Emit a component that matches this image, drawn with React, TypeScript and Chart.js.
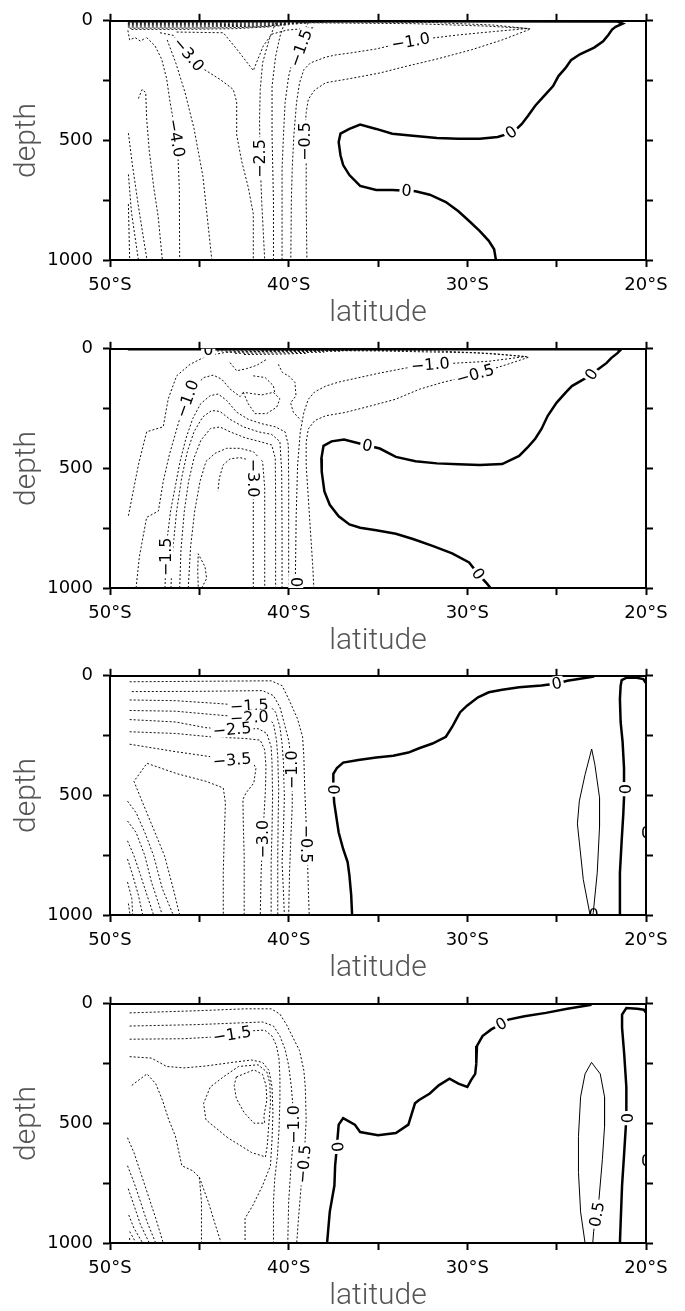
import React, { useEffect, useRef } from 'react';
import { Chart, registerables } from 'chart.js';

Chart.register(...registerables);
Chart.defaults.font.family = '"DejaVu Sans", sans-serif';

type Pt = [number, number]; // [latitude (negative = south), depth]
type Label = [string, number, number, number, boolean?]; // text, lat, depth, rotation (deg), background

// ---- axes ----
const LAT_TICKS = [-50, -45, -40, -35, -30, -25, -20];
const LAT_TICK_LABELS = ['50°S', '', '40°S', '', '30°S', '', '20°S'];
const DEPTH_TICKS = [0, 250, 500, 750, 1000];
const DEPTH_TICK_LABELS = ['0', '', '500', '', '1000'];

// ================= section 1 =================
const S1_ZERO: Pt[] = [[-49.0,2],[-35,2],[-21.6,3],[-21.3,12],[-21.7,25],[-21.9,37],[-22.1,58],[-22.4,86],[-22.9,112],[-23.7,140],[-24.2,165],[-24.5,197],[-24.9,231],[-25.2,273],[-25.7,314],[-26.2,355],[-26.6,397],[-26.95,431],[-27.3,456],[-27.7,472],[-28.3,486],[-29.3,493],[-30.5,493],[-31.7,490],[-32.9,482],[-34.2,472],[-35.1,452],[-36.0,434],[-36.6,452],[-37.1,472],[-37.2,507],[-37.1,562],[-36.95,603],[-36.6,645],[-36.0,690],[-35.1,707],[-34.2,707],[-33.4,710],[-32.9,713],[-32.1,727],[-31.2,758],[-30.5,796],[-29.9,837],[-29.3,879],[-28.8,920],[-28.5,955],[-28.4,1000]];
const S1_M05: Pt[] = [[-38.0,4],[-32,7],[-28.5,18],[-26.45,34],[-28.05,80],[-29.76,121],[-31.71,160],[-33.41,190],[-34.88,218],[-36.59,242],[-37.93,259],[-38.54,289],[-38.9,328],[-39.02,383],[-39.1,479],[-39.08,530],[-39.02,576],[-39.02,755],[-38.98,1000]];
const S1_M10: Pt[] = [[-39.5,8],[-33,12],[-29,22],[-26.6,32],[-28.54,45],[-30.49,59],[-32.07,73],[-33.17,85],[-34.15,101],[-35.12,118],[-36.59,135],[-37.32,142],[-37.93,152],[-38.78,176],[-39.15,204],[-39.39,259],[-39.56,342],[-39.71,479],[-39.8,617],[-39.85,755],[-39.88,1000]];
const S1_M15: Pt[] = [[-38.9,8],[-39.27,59],[-39.32,114],[-39.76,163],[-40.0,231],[-40.2,342],[-40.29,479],[-40.37,617],[-40.37,1000]];
const S1_M20: Pt[] = [[-40.24,11],[-40.49,66],[-40.73,149],[-40.93,273],[-40.93,479],[-40.85,755],[-40.85,1000]];
const S1_M25: Pt[] = [[-40.73,8],[-41.1,80],[-41.46,176],[-41.59,287],[-41.63,410],[-41.6,576],[-41.51,755],[-41.34,1000]];
const S1_M30: Pt[] = [[-47.2,50],[-46.45,61],[-45.6,140],[-44.78,201],[-43.84,245],[-43.1,287],[-42.91,339],[-42.91,477],[-42.63,587],[-42.26,697],[-41.98,807],[-41.98,1000]];
const S1_M30B: Pt[] = [[-46.27,47],[-43.66,50],[-42.91,118],[-41.98,208],[-41.42,105],[-40.95,56],[-40.11,39],[-38.6,29]];
const S1_M35: Pt[] = [[-46.8,80],[-46.3,180],[-45.8,300],[-45.3,450],[-44.8,650],[-44.3,1000]];
const S1_M40: Pt[] = [[-47.95,70],[-47.48,105],[-47.11,160],[-46.83,242],[-46.64,339],[-46.4,440],[-46.3,490],[-46.2,560],[-46.12,700],[-46.1,1000]];
const S1_M45: Pt[] = [[-48.41,325],[-48.2,287],[-48.0,300],[-47.95,408],[-47.8,545],[-47.55,697],[-47.3,821],[-47.07,1000]];
const S1_M50: Pt[] = [[-48.97,470],[-48.75,600],[-48.4,780],[-47.93,1000]];
const S1_M55: Pt[] = [[-48.97,642],[-48.8,800],[-48.41,1000]];
const S1_M60: Pt[] = [[-48.97,766],[-48.9,1000]];
const S1_NW: Pt[] = [[-49.0,40],[-48.9,80],[-48.6,70],[-48.3,85],[-48.0,72]];
const S1_SURF_A: Pt[] = [[-49,6],[-44,6],[-40,5],[-37,4]];
const S1_SURF_B: Pt[] = [[-49,11],[-44,11],[-40.5,9],[-38,7]];
const S1_SURF_C: Pt[] = [[-49,16],[-44,16],[-41,13],[-39,10]];
const S1_SURF_D: Pt[] = [[-49,21],[-44.5,21],[-41.5,18],[-39.5,13]];
const S1_SURF_E: Pt[] = [[-49,26],[-45,26],[-42,23],[-40,17]];
const S1_SURF_F: Pt[] = [[-48.9,31],[-45.5,31],[-42.5,28],[-40.5,21]];
const S1_SURF_G: Pt[] = [[-48.8,36],[-46,36],[-43,33],[-41,25]];
const S1_LABELS: Label[] = [
  ['−1.0', -33.17, 86, -10], ['−1.5', -39.32, 114, -70], ['−3.0', -45.6, 140, 50],
  ['−4.0', -46.3, 490, 80], ['−2.5', -41.6, 576, -90], ['−0.5', -39.09, 505, -90],
  ['0', -27.55, 466, -35], ['0', -33.4, 710, 5],
];

// ================= section 2 =================
const S2_ZERO: Pt[] = [[-49.0,2],[-35,2],[-21.6,2],[-21.45,7],[-21.6,18],[-21.95,39],[-22.2,59],[-22.7,87],[-23.05,107],[-23.5,128],[-24.15,156],[-24.5,183],[-25.0,225],[-25.5,280],[-25.85,335],[-26.2,376],[-26.6,410],[-27.1,448],[-28.05,482],[-29.3,486],[-30.5,483],[-31.7,479],[-32.9,470],[-34.0,452],[-34.9,417],[-35.6,404],[-36.9,379],[-37.6,387],[-38.05,406],[-38.17,459],[-38.15,514],[-38.0,596],[-37.7,652],[-37.2,700],[-36.6,734],[-36.0,748],[-35.1,759],[-34.0,773],[-33.0,796],[-31.95,824],[-30.85,855],[-29.9,893],[-29.4,941],[-28.9,982],[-28.7,1000]];
const S2_M05: Pt[] = [[-48.97,698],[-48.41,485],[-47.95,347],[-47.02,326],[-46.74,209],[-46.27,113],[-45.52,65],[-44.59,30],[-43.47,14],[-38,6],[-32,8],[-28.5,20],[-26.55,35],[-27.8,66],[-29.56,107],[-31.46,142],[-32.68,169],[-34.02,211],[-35.37,238],[-36.83,266],[-37.93,280],[-38.54,300],[-38.9,335],[-39.02,390],[-39.02,486],[-38.9,624],[-38.78,762],[-38.66,899],[-38.59,1000]];
const S2_M10: Pt[] = [[-41.5,6],[-35,9],[-29.5,17],[-26.7,32],[-28.78,52],[-32.07,66],[-33.41,80],[-34.88,101],[-36.1,121],[-37.2,139],[-37.93,156],[-38.54,180],[-38.9,211],[-39.15,266],[-39.35,348],[-39.5,486],[-39.58,700],[-39.63,1000]];
const S2_M10W: Pt[] = [[-48.54,1000],[-48.36,871],[-47.95,705],[-47.29,678],[-47.02,554],[-46.68,444],[-46.31,347],[-45.99,264],[-45.67,209],[-45.24,154],[-44.74,120],[-44.22,110],[-43.75,127],[-43.28,168],[-42.72,200],[-42.54,182]];
const S2_M15: Pt[] = [[-46.92,1000],[-46.88,884],[-46.79,788],[-46.61,678],[-46.36,581],[-46.08,471],[-45.75,375],[-45.37,292],[-44.93,230],[-44.4,196],[-43.94,189],[-43.47,216],[-42.91,265],[-42.26,295],[-41.51,313],[-40.76,326],[-40.2,347],[-40.02,402],[-40.0,554],[-40.0,760],[-40.0,1000]];
const S2_M20: Pt[] = [[-46.59,1000],[-46.49,843],[-46.27,678],[-45.99,540],[-45.67,430],[-45.3,347],[-44.81,285],[-44.31,258],[-43.84,262],[-43.28,295],[-42.54,326],[-41.7,347],[-40.95,358],[-40.49,388],[-40.39,512],[-40.37,760],[-40.37,1000]];
const S2_M25: Pt[] = [[-46.1,1000],[-46.03,843],[-45.84,678],[-45.6,554],[-45.3,457],[-44.91,382],[-44.37,333],[-43.84,327],[-43.28,347],[-42.44,372],[-41.6,388],[-40.95,402],[-40.75,457],[-40.73,623],[-40.73,1000]];
const S2_M30: Pt[] = [[-45.62,1000],[-45.49,829],[-45.26,678],[-44.96,554],[-44.63,471],[-44.12,437],[-43.47,416],[-42.72,416],[-41.98,430],[-41.46,471],[-41.34,581],[-41.34,760],[-41.34,1000]];
const S2_M35: Pt[] = [[-41.98,1000],[-41.98,760],[-41.98,540],[-42.03,485],[-42.26,464],[-42.72,455],[-43.28,460],[-43.66,485],[-43.88,540],[-43.96,595]];
const S2_LOOP_S: Pt[] = [[-44.87,1000],[-44.59,960],[-44.68,912],[-45.06,857],[-45.09,926],[-45.06,1000]];
const S2_LOOP_N: Pt[] = [[-42.54,182],[-42.26,230],[-41.88,271],[-41.23,271],[-40.67,244],[-40.49,209],[-40.86,182],[-41.51,193],[-42.16,186],[-42.54,182]];
const S2_WIG_A: Pt[] = [[-41.98,113],[-41.32,120],[-40.86,154],[-40.76,189]];
const S2_WIG_B: Pt[] = [[-43.28,58],[-42.91,92],[-42.35,83],[-41.79,69],[-41.23,44]];
const S2_WIG_C: Pt[] = [[-40.58,65],[-40.35,99],[-39.96,116],[-39.65,140],[-39.59,196],[-39.89,226],[-39.74,265],[-39.3,300]];
const S2_SURF_A: Pt[] = [[-44.5,4],[-40,4],[-36,4]];
const S2_SURF_B: Pt[] = [[-44.0,9],[-40,8],[-36.5,7]];
const S2_SURF_C: Pt[] = [[-43.5,14],[-40,12],[-37,10]];
const S2_SURF_D: Pt[] = [[-43,19],[-40.5,17],[-38,14]];
const S2_SURF_E: Pt[] = [[-42.5,24],[-40.5,22],[-39,19]];
const S2_LABELS: Label[] = [
  ['0', -23.05, 107, -55], ['0', -35.6, 404, 12], ['0', -29.4, 941, 55],
  ['−1.0', -32.07, 66, -5], ['−0.5', -29.56, 107, -16], ['−1.0', -45.67, 209, -70],
  ['−1.5', -46.88, 870, -90], ['−3.0', -41.98, 540, 90], ['0', -44.5, 6, 0], ['0', -39.6, 975, 90],
];

// ================= section 3 =================
const S3_ZERO_W: Pt[] = [[-22.9,3],[-24.4,21],[-25.0,32],[-25.85,41],[-27.1,48],[-28.05,58],[-28.8,69],[-29.4,90],[-30.0,124],[-30.4,152],[-30.6,179],[-30.85,214],[-31.2,255],[-31.95,283],[-32.7,303],[-33.3,321],[-34.15,334],[-35.1,342],[-36.1,352],[-36.95,363],[-37.3,386],[-37.5,410],[-37.5,476],[-37.45,531],[-37.2,655],[-36.95,724],[-36.7,779],[-36.6,834],[-36.5,917],[-36.45,1000]];
const S3_ZERO_E: Pt[] = [[-21.49,1000],[-21.46,824],[-21.36,687],[-21.27,577],[-21.21,474],[-21.23,386],[-21.31,276],[-21.42,193],[-21.46,97],[-21.42,42],[-21.36,18],[-21.08,8],[-20.52,8],[-20.15,14],[-20.02,29]];
const S3_P05: Pt[] = [[-23.13,1000],[-23.51,852],[-23.84,619],[-23.73,523],[-23.41,413],[-23.04,306],[-22.86,372],[-22.6,509],[-22.6,632],[-22.73,824],[-22.95,989],[-22.98,1000]];
const S3_M05: Pt[] = [[-48.9,25],[-45.1,23],[-40.98,21],[-40.37,41],[-40.0,97],[-39.51,179],[-39.22,255],[-39.15,338],[-39.1,476],[-39.02,614],[-39.0,703],[-38.95,752],[-38.9,890],[-38.85,1000]];
const S3_M10: Pt[] = [[-48.78,66],[-45.12,65],[-41.46,62],[-40.85,83],[-40.49,131],[-40.24,200],[-40.0,269],[-39.88,338],[-39.8,393],[-39.8,545],[-39.88,683],[-39.95,821],[-40.0,1000]];
const S3_M15: Pt[] = [[-48.9,101],[-46.34,104],[-43.9,116],[-42.2,126],[-41.1,122],[-40.73,152],[-40.49,214],[-40.37,283],[-40.29,366],[-40.24,503],[-40.29,641],[-40.37,779],[-40.3,890],[-40.24,1000]];
const S3_M20: Pt[] = [[-48.9,145],[-46.34,148],[-44.39,161],[-42.2,175],[-41.22,172],[-40.85,200],[-40.68,269],[-40.61,338],[-40.56,476],[-40.59,614],[-40.61,752],[-40.61,1000]];
const S3_M25: Pt[] = [[-48.9,183],[-46.34,193],[-44.63,217],[-43.17,224],[-41.71,221],[-41.22,241],[-40.98,297],[-40.93,366],[-40.9,503],[-40.93,641],[-40.98,779],[-40.98,1000]];
const S3_M30: Pt[] = [[-48.9,234],[-46.34,241],[-44.39,255],[-42.44,262],[-41.59,269],[-41.34,310],[-41.27,379],[-41.3,476],[-41.37,572],[-41.46,683],[-41.54,821],[-41.59,1000]];
const S3_M35: Pt[] = [[-48.9,286],[-46.34,317],[-44.39,338],[-43.17,352],[-42.07,355],[-41.83,386],[-41.95,448],[-42.39,490],[-42.56,517],[-42.54,614],[-42.49,752],[-42.49,1000]];
const S3_M40: Pt[] = [[-46.1,1000],[-46.46,890],[-46.95,752],[-47.56,641],[-48.17,531],[-48.66,441],[-47.93,366],[-46.22,410],[-44.63,441],[-43.66,469],[-43.54,531],[-43.61,683],[-43.66,821],[-43.66,1000]];
const S3_W1: Pt[] = [[-49.02,524],[-48.54,572],[-48.05,655],[-47.56,752],[-47.07,890],[-46.46,1000]];
const S3_W2: Pt[] = [[-49.02,607],[-48.54,655],[-48.05,752],[-47.68,862],[-47.07,1000]];
const S3_W3: Pt[] = [[-49.02,690],[-48.66,752],[-48.29,834],[-47.93,917],[-47.56,1000]];
const S3_W4: Pt[] = [[-49.02,766],[-48.78,821],[-48.41,917],[-48.17,1000]];
const S3_W5: Pt[] = [[-49.02,862],[-48.78,931],[-48.73,1000]];
const S3_W6: Pt[] = [[-48.97,952],[-48.88,1000]];
const S3_LABELS: Label[] = [
  ['0', -25.0, 32, -11], ['0', -37.5, 476, 90], ['0', -21.21, 474, 90],
  ['0', -20.0, 657, 0, false], ['0', -22.94, 1000, 0, false],
  ['−1.5', -42.2, 126, -3], ['−2.0', -42.2, 175, -3], ['−2.5', -43.17, 224, -5],
  ['−3.5', -43.17, 352, -5], ['−3.0', -41.46, 683, -90], ['−1.0', -39.8, 393, -90], ['−0.5', -39.0, 703, 90],
];

// ================= section 4 =================
const S4_ZERO_W: Pt[] = [[-23.05,4],[-24.4,21],[-25.6,38],[-26.8,52],[-27.7,66],[-28.1,84],[-28.66,107],[-29.15,135],[-29.46,176],[-29.5,210],[-29.5,251],[-29.56,293],[-29.8,320],[-30.0,348],[-30.5,334],[-31.0,313],[-31.6,341],[-32.1,375],[-32.7,402],[-32.93,416],[-33.3,505],[-34.0,540],[-35.0,549],[-36.0,536],[-36.3,505],[-36.95,478],[-37.2,505],[-37.27,567],[-37.3,598],[-37.4,677],[-37.44,760],[-37.7,870],[-37.85,1000]];
const S4_ZERO_E: Pt[] = [[-21.46,1000],[-21.41,897],[-21.34,760],[-21.22,622],[-21.1,478],[-21.1,348],[-21.22,210],[-21.34,100],[-21.34,45],[-21.1,18],[-20.49,21],[-20.12,25],[-20.02,35]];
const S4_P05: Pt[] = [[-23.41,1000],[-23.66,870],[-23.78,705],[-23.78,554],[-23.66,389],[-23.41,293],[-23.05,245],[-22.56,293],[-22.32,389],[-22.32,512],[-22.44,650],[-22.63,815],[-22.8,883],[-22.93,952],[-22.98,1000]];
const S4_M05: Pt[] = [[-48.9,38],[-45.12,29],[-42.44,21],[-40.98,21],[-40.49,43],[-40.12,87],[-39.76,141],[-39.39,196],[-39.15,279],[-39.07,348],[-39.02,485],[-39.1,600],[-39.15,670],[-39.3,760],[-39.45,897],[-39.55,1000]];
const S4_M10: Pt[] = [[-48.9,93],[-45.12,87],[-41.46,76],[-40.85,93],[-40.49,135],[-40.2,190],[-40.0,258],[-39.85,348],[-39.76,430],[-39.7,505],[-39.76,581],[-39.88,691],[-40.0,828],[-40.05,1000]];
const S4_M15: Pt[] = [[-48.9,148],[-45.85,146],[-44.27,139],[-43.17,128],[-42.07,113],[-41.34,110],[-40.93,135],[-40.68,176],[-40.54,231],[-40.49,306],[-40.49,402],[-40.54,526],[-40.63,636],[-40.78,732],[-40.85,828],[-40.85,1000]];
const S4_M20: Pt[] = [[-48.9,221],[-47.68,227],[-46.83,262],[-45.85,268],[-44.63,260],[-43.17,245],[-42.07,235],[-41.46,245],[-41.1,279],[-40.93,348],[-40.88,457],[-40.93,567],[-41.02,677],[-41.46,760],[-42.0,842],[-42.44,897],[-42.44,1000]];
const S4_M25: Pt[] = [[-43.41,560],[-44.63,485],[-44.76,416],[-44.39,348],[-43.66,306],[-42.8,262],[-41.71,255],[-41.22,285],[-41.05,334],[-41.02,416],[-41.12,512],[-41.2,595],[-41.3,640],[-42.07,622],[-42.8,588],[-43.41,560]];
const S4_M30: Pt[] = [[-42.93,306],[-41.95,276],[-41.46,295],[-41.27,341],[-41.22,402],[-41.39,471],[-41.34,499],[-41.95,499],[-42.49,455],[-42.93,396],[-43.05,341],[-42.93,306]];
const S4_ARCH: Pt[] = [[-48.78,341],[-47.93,293],[-47.44,334],[-47.07,402],[-46.71,485],[-46.34,553],[-45.98,677],[-45.37,698],[-45.0,725],[-44.88,828],[-44.88,1000]];
const S4_W1: Pt[] = [[-49.02,560],[-48.66,622],[-48.29,705],[-47.8,815],[-47.44,897],[-47.02,1000]];
const S4_W2: Pt[] = [[-49.02,677],[-48.66,746],[-48.29,828],[-47.93,911],[-47.44,1000]];
const S4_W3: Pt[] = [[-48.98,773],[-48.66,842],[-48.29,924],[-47.8,1000]];
const S4_W4: Pt[] = [[-48.95,883],[-48.66,938],[-48.17,1000]];
const S4_W5: Pt[] = [[-48.9,952],[-48.54,1000]];
const S4_W6: Pt[] = [[-48.9,979],[-48.9,1000]];
const S4_W7: Pt[] = [[-45.0,725],[-44.5,828],[-44.1,925],[-43.78,1000]];
const S4_LABELS: Label[] = [
  ['0', -28.1, 84, -30], ['0', -37.3, 598, 85], ['0', -21.1, 478, 90], ['0', -20.0, 657, 0, false],
  ['0.5', -22.75, 880, -80], ['−1.5', -43.17, 128, -9], ['−1.0', -39.7, 505, -90], ['−0.5', -39.15, 670, -85],
];

type Kind = 'zero' | 'neg' | 'pos';
type Line = { pts: Pt[]; kind: Kind };
const neg = (pts: Pt[]): Line => ({ pts, kind: 'neg' });
const zero = (pts: Pt[]): Line => ({ pts, kind: 'zero' });
const pos = (pts: Pt[]): Line => ({ pts, kind: 'pos' });

const SECTIONS: { lines: Line[]; labels: Label[] }[] = [
  {
    lines: [
      ...[S1_SURF_A, S1_SURF_B, S1_SURF_C, S1_SURF_D, S1_SURF_E, S1_SURF_F, S1_SURF_G, S1_NW].map(neg),
      ...[S1_M05, S1_M10, S1_M15, S1_M20, S1_M25, S1_M30, S1_M30B, S1_M35, S1_M40, S1_M45, S1_M50, S1_M55, S1_M60].map(neg),
      zero(S1_ZERO),
    ],
    labels: S1_LABELS,
  },
  {
    lines: [
      ...[S2_SURF_A, S2_SURF_B, S2_SURF_C, S2_SURF_D, S2_SURF_E].map(neg),
      ...[S2_M05, S2_M10, S2_M10W, S2_M15, S2_M20, S2_M25, S2_M30, S2_M35, S2_LOOP_S, S2_LOOP_N, S2_WIG_A, S2_WIG_B, S2_WIG_C].map(neg),
      zero(S2_ZERO),
    ],
    labels: S2_LABELS,
  },
  {
    lines: [
      ...[S3_M05, S3_M10, S3_M15, S3_M20, S3_M25, S3_M30, S3_M35, S3_M40, S3_W1, S3_W2, S3_W3, S3_W4, S3_W5, S3_W6].map(neg),
      pos(S3_P05), zero(S3_ZERO_W), zero(S3_ZERO_E),
    ],
    labels: S3_LABELS,
  },
  {
    lines: [
      ...[S4_M05, S4_M10, S4_M15, S4_M20, S4_M25, S4_M30, S4_ARCH, S4_W1, S4_W2, S4_W3, S4_W4, S4_W5, S4_W6, S4_W7].map(neg),
      pos(S4_P05), zero(S4_ZERO_W), zero(S4_ZERO_E),
    ],
    labels: S4_LABELS,
  },
];

const SECTION_TOPS = [0, 328, 655, 983];
const CANVAS_W = 685;
const CANVAS_H = 328;

const LINE_STYLE: Record<Kind, { color: string; width: number; dash: number[] }> = {
  zero: { color: '#000', width: 2.5, dash: [] },
  neg: { color: '#111', width: 1, dash: [2, 2] },
  pos: { color: '#000', width: 1, dash: [] },
};

function ContourSection({ lines, labels, top }: { lines: Line[]; labels: Label[]; top: number }) {
  const ref = useRef<HTMLCanvasElement | null>(null);

  useEffect(() => {
    const canvas = ref.current;
    if (!canvas) return;

    // contour values written along the lines, on a white gap
    const labelPlugin = {
      id: 'contourLabels',
      afterDatasetsDraw(chart: any) {
        const { ctx, chartArea: a, scales } = chart;
        ctx.save();
        ctx.beginPath();
        ctx.rect(a.left, a.top, a.right - a.left, a.bottom - a.top);
        ctx.clip();
        ctx.font = '16px "DejaVu Sans"';
        ctx.textAlign = 'center';
        ctx.textBaseline = 'middle';
        for (const [text, lat, depth, rot, bg] of labels) {
          const px = scales.x.getPixelForValue(lat);
          const py = scales.y.getPixelForValue(depth);
          ctx.save();
          ctx.translate(px, py);
          ctx.rotate((rot * Math.PI) / 180);
          if (bg !== false) {
            const w = ctx.measureText(text).width + 4;
            ctx.fillStyle = '#fff';
            ctx.fillRect(-w / 2, -7.5, w, 15);
          }
          ctx.fillStyle = '#000';
          ctx.fillText(text, 0, 1);
          ctx.restore();
        }
        ctx.restore();
      },
    };

    const tickGrid = { drawOnChartArea: false, drawTicks: true, tickLength: 7, tickWidth: 2, tickColor: '#000' };
    const border = { display: true, width: 2, color: '#000' };
    const tickFont = { family: 'DejaVu Sans', size: 18 };
    const titleFont = { family: 'Roboto', size: 30, weight: '300', lineHeight: 1 };
    const latTicks = (s: any) => { s.ticks = LAT_TICKS.map((value) => ({ value })); };
    const depthTicks = (s: any) => { s.ticks = DEPTH_TICKS.map((value) => ({ value })); };

    const chart = new Chart(canvas, {
      type: 'scatter',
      data: {
        datasets: lines.map((l) => ({
          data: l.pts.map(([x, y]) => ({ x, y })),
          showLine: true,
          pointRadius: 0,
          pointHoverRadius: 0,
          borderColor: LINE_STYLE[l.kind].color,
          borderWidth: LINE_STYLE[l.kind].width,
          borderDash: LINE_STYLE[l.kind].dash,
          fill: false,
          tension: 0,
          xAxisID: 'x',
          yAxisID: 'y',
        })),
      },
      options: {
        animation: false,
        responsive: false,
        events: [],
        layout: { padding: 0 },
        plugins: { legend: { display: false }, tooltip: { enabled: false } },
        scales: {
          x: {
            type: 'linear', position: 'bottom', min: -50, max: -20,
            afterBuildTicks: latTicks,
            afterFit: (s: any) => { s.height = 68; },
            ticks: {
              autoSkip: false, maxRotation: 0, minRotation: 0, padding: 8, color: '#000', font: tickFont,
              callback: (_v: any, i: number) => LAT_TICK_LABELS[i] ?? '',
            },
            grid: tickGrid, border,
            title: { display: true, text: 'latitude', color: '#555', font: titleFont, padding: { top: 0, bottom: 0 } },
          },
          x2: {
            type: 'linear', axis: 'x', position: 'top', min: -50, max: -20,
            afterBuildTicks: latTicks,
            afterFit: (s: any) => { s.height = 18; },
            ticks: { display: false },
            grid: tickGrid, border,
          },
          y: {
            type: 'linear', position: 'left', reverse: true, min: 0, max: 1000,
            afterBuildTicks: depthTicks,
            afterFit: (s: any) => { s.width = 110; },
            ticks: {
              autoSkip: false, padding: 10, color: '#000', font: tickFont,
              callback: (_v: any, i: number) => DEPTH_TICK_LABELS[i] ?? '',
            },
            grid: tickGrid, border,
            title: { display: true, text: 'depth', color: '#555', font: titleFont, padding: { top: 12, bottom: 0 } },
          },
          y2: {
            type: 'linear', axis: 'y', position: 'right', reverse: true, min: 0, max: 1000,
            afterBuildTicks: depthTicks,
            afterFit: (s: any) => { s.width = 39; },
            ticks: { display: false },
            grid: tickGrid, border,
          },
        },
      } as any,
      plugins: [labelPlugin],
    });

    return () => chart.destroy();
  }, [lines, labels]);

  return (
    <canvas
      ref={ref}
      width={CANVAS_W}
      height={CANVAS_H}
      style={{ position: 'absolute', left: 0, top, width: CANVAS_W, height: CANVAS_H, display: 'block' }}
    />
  );
}

export default function App() {
  return (
    <div style={{ position: 'fixed', left: 0, top: 0, width: 685, height: 1311, background: '#fff', overflow: 'hidden' }}>
      {SECTIONS.map((s, i) => (
        <ContourSection key={i} lines={s.lines} labels={s.labels} top={SECTION_TOPS[i]} />
      ))}
    </div>
  );
}
